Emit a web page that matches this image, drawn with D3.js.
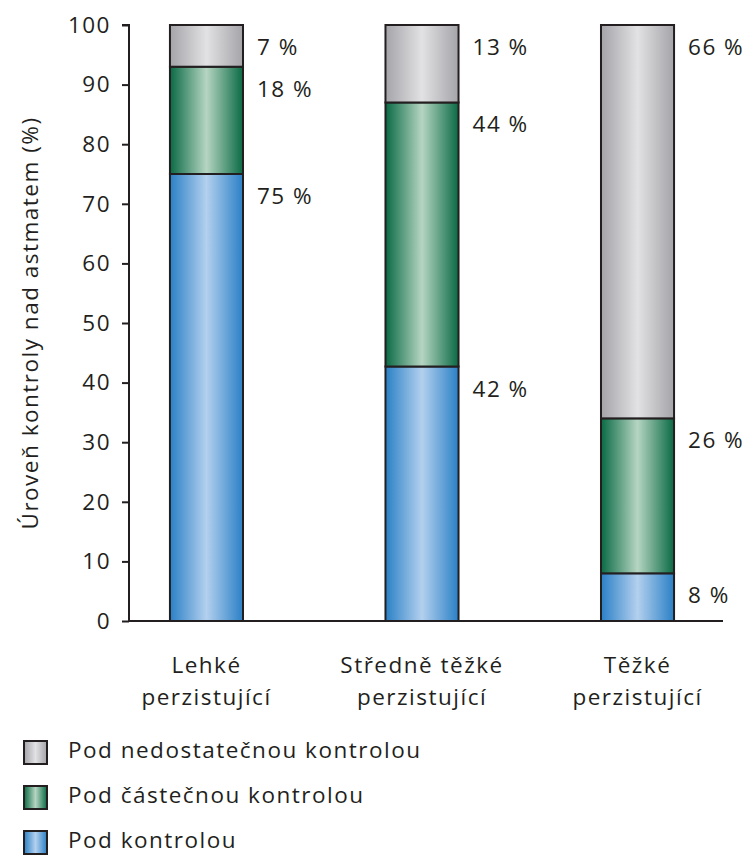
<!DOCTYPE html>
<html><head><meta charset="utf-8">
<script src="https://cdn.jsdelivr.net/npm/d3@7"></script>
<style>body{margin:0;background:#fff}svg{display:block}text{font-family:"Open Sans",sans-serif;fill:#231f20;letter-spacing:1.5px}</style>
</head><body>
<svg id="c" width="751" height="857"></svg>
<script>
const categories = [["Lehké","perzistující"],["Středně těžké","perzistující"],["Těžké","perzistující"]];
const seriesNames = ["Pod kontrolou","Pod částečnou kontrolou","Pod nedostatečnou kontrolou"];
const controlled = [75, 42.7, 8];
const partial = [18, 44.3, 26];
const uncontrolled = [7, 13, 66];
const labelsControlled = ["75 %","42 %","8 %"];
const labelsPartial = ["18 %","44 %","26 %"];
const labelsUncontrolled = ["7 %","13 %","66 %"];
const yTicks = [0,10,20,30,40,50,60,70,80,90,100];

const FS = 22.5;
const svg = d3.select("#c");
const defs = svg.append("defs");
const grads = [
  {id:"gBlue", edge:"#2a80c6", mid:"#b3d0ee"},
  {id:"gGreen", edge:"#0a6a44", mid:"#b5d5c2"},
  {id:"gGray", edge:"#a4a4a9", mid:"#e2e2e4"}
];
grads.forEach(g=>{
  const lg = defs.append("linearGradient").attr("id",g.id).attr("x1","0").attr("x2","1").attr("y1","0").attr("y2","0");
  lg.append("stop").attr("offset","0").attr("stop-color",g.edge);
  lg.append("stop").attr("offset","0.5").attr("stop-color",g.mid);
  lg.append("stop").attr("offset","1").attr("stop-color",g.edge);
});
const fills = ["url(#gBlue)","url(#gGreen)","url(#gGray)"];

const x0 = 129, x1 = 723, yTop = 25, yBot = 621;
const y = d3.scaleLinear().domain([0,100]).range([yBot,yTop]);
const x = d3.scaleBand().domain(d3.range(categories.length)).range([x0, 715]).paddingInner(0.661).paddingOuter(0.19);

const stackData = categories.map((c,i)=>({i, s0:controlled[i], s1:partial[i], s2:uncontrolled[i]}));
const stack = d3.stack().keys(["s0","s1","s2"])(stackData);
const labelSets = [labelsControlled, labelsPartial, labelsUncontrolled];

// y axis
const yAxis = d3.axisLeft(y).tickValues(yTicks).tickSize(7).tickPadding(11);
const gy = svg.append("g").attr("transform",`translate(${x0},0)`).call(yAxis);
gy.select(".domain").attr("stroke","#231f20").attr("stroke-width",2).attr("d",`M-7,${yTop}H0V${yBot}`);
gy.selectAll(".tick line").attr("stroke","#231f20").attr("stroke-width",2);
gy.selectAll(".tick text").attr("font-size",FS).attr("font-family","Open Sans").attr("fill","#231f20");

// x axis line
svg.append("line").attr("x1",x0).attr("x2",x1).attr("y1",yBot).attr("y2",yBot).attr("stroke","#231f20").attr("stroke-width",2);

// bars
stack.forEach((layer,k)=>{
  svg.append("g").selectAll("rect").data(layer).join("rect")
    .attr("x",d=>x(d.data.i)).attr("width",x.bandwidth())
    .attr("y",d=>y(d[1])).attr("height",d=>y(d[0])-y(d[1]))
    .attr("fill",fills[k]).attr("stroke","#231f20").attr("stroke-width",2);
  svg.append("g").selectAll("text").data(layer).join("text")
    .attr("x",d=>x(d.data.i)+x.bandwidth()+14)
    .attr("y",d=>y(d[1])+30)
    .attr("font-size",FS).text(d=>labelSets[k][d.data.i]);
});

// category labels
categories.forEach((c,i)=>{
  const t = svg.append("text").attr("text-anchor","middle").attr("font-size",FS);
  c.forEach((line,j)=>t.append("tspan").attr("x",x(i)+x.bandwidth()/2).attr("y",673+j*32).text(line));
});

// y title
svg.append("text").attr("transform",`translate(38,${(yTop+yBot)/2}) rotate(-90)`).attr("text-anchor","middle").attr("font-size",FS).text("Úroveň kontroly nad astmatem (%)");

// legend
const legendOrder = [2,1,0];
legendOrder.forEach((k,r)=>{
  const cy = 753 + r*45;
  svg.append("rect").attr("x",24).attr("y",cy-12).attr("width",23).attr("height",23).attr("fill",fills[k]).attr("stroke","#231f20").attr("stroke-width",2);
  svg.append("text").attr("x",68).attr("y",cy+5).attr("font-size",FS).text(seriesNames[k]);
});
</script>
</body></html>
